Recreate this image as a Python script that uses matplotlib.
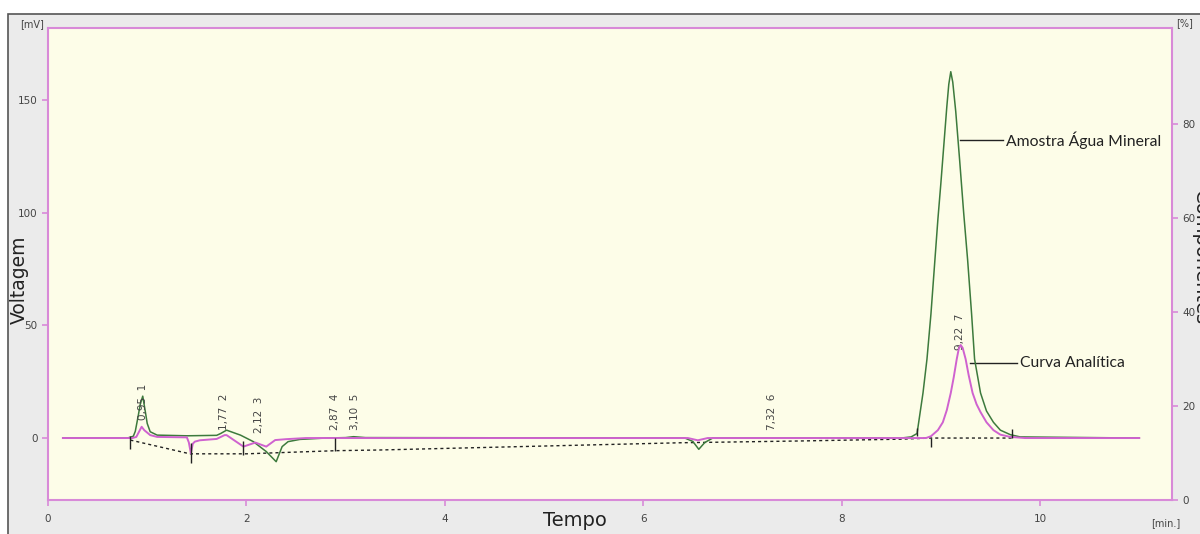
import matplotlib
matplotlib.use("Agg")
import matplotlib.pyplot as plt
from matplotlib.patches import Rectangle

GREEN = "#3d7a3d"
MAGENTA = "#cf62cf"
FRAME = "#d88ad8"
TXT = "#444444"

# Amostra Água Mineral (green trace), time [min] / voltage [mV]
amostra_t = [0.15, 0.80, 0.86, 0.88, 0.91, 0.93, 0.955, 0.98, 1.00, 1.03, 1.10, 1.40,
             1.70, 1.74, 1.80, 1.94, 2.07, 2.20, 2.30, 2.36, 2.42, 2.54, 2.80, 3.00,
             3.08, 3.20, 6.42, 6.50, 6.56, 6.62, 6.70, 8.60, 8.70, 8.76, 8.78, 8.82,
             8.86, 8.90, 8.94, 8.97, 9.00, 9.03, 9.06, 9.08, 9.10, 9.12, 9.15, 9.19,
             9.23, 9.27, 9.31, 9.34, 9.40, 9.46, 9.53, 9.60, 9.70, 9.80, 11.0]
amostra_v = [0.0, 0.0, 0.8, 3.0, 10.0, 15.0, 18.6, 12.0, 6.5, 2.8, 1.3, 1.0,
             1.2, 2.0, 3.5, 1.3, -1.6, -6.0, -10.5, -3.8, -1.6, -0.6, 0.0, 0.2,
             0.6, 0.2, 0.0, -1.5, -5.0, -2.0, 0.0, 0.0, 0.5, 2.0, 8.0, 20.0,
             35.0, 55.0, 79.0, 97.0, 113.0, 130.0, 147.0, 157.0, 162.6, 158.0, 145.0, 123.0,
             100.0, 79.0, 55.0, 35.0, 20.0, 12.0, 7.0, 3.5, 1.5, 0.5, 0.0]

# Curva Analítica (magenta trace)
curva_t = [0.15, 0.85, 0.89, 0.92, 0.944, 0.97, 1.03, 1.10, 1.40, 1.42, 1.44, 1.46,
           1.48, 1.53, 1.70, 1.78, 1.80, 1.97, 2.09, 2.20, 2.29, 2.40, 2.60, 6.45,
           6.55, 6.65, 8.85, 8.90, 8.97, 9.02, 9.06, 9.10, 9.13, 9.16, 9.18, 9.20,
           9.22, 9.25, 9.28, 9.32, 9.36, 9.40, 9.46, 9.53, 9.60, 9.70, 9.85, 11.0]
curva_v = [0.0, 0.0, 0.5, 3.0, 5.0, 3.5, 1.3, 0.5, 0.3, -2.0, -6.8, -2.5,
           -1.6, -1.0, -0.4, 1.3, 1.3, -3.8, -2.0, -3.8, -0.9, -0.5, 0.0, 0.0,
           -1.0, 0.0, 0.0, 0.8, 3.5, 7.0, 12.4, 20.0, 27.0, 35.0, 39.5, 41.3,
           40.0, 35.0, 28.0, 20.0, 15.0, 11.5, 7.0, 3.5, 1.5, 0.5, 0.0, 0.0]

# integration baseline (dashed)
base_t = [0.83, 1.43, 2.00, 2.91, 3.35, 4.76, 6.37, 7.58, 8.60, 8.90, 9.72]
base_v = [-0.9, -7.0, -7.0, -5.6, -5.3, -3.8, -2.1, -1.3, -0.5, 0.0, 0.0]

# peak start/end markers: time, lower, upper [mV]
mark_t = [0.83, 1.44, 1.97, 2.89, 8.76, 8.90, 9.72]
mark_lo = [-5.0, -11.0, -7.5, -5.8, 1.0, -4.0, 0.0]
mark_hi = [1.0, -2.0, -1.5, 0.0, 4.5, 0.0, 4.0]

# peak labels
peak_rt = [0.95, 1.77, 2.12, 2.87, 3.10, 7.32, 9.22]
peak_x = [0.96, 1.77, 2.13, 2.89, 3.09, 7.30, 9.19]
peak_y = [8.0, 3.5, 2.2, 3.5, 3.5, 3.5, 39.0]

fig = plt.figure(figsize=(12, 5.34), dpi=100)
fig.patches.append(Rectangle((8 / 1200, -0.05), 1.1, (534 - 14) / 534 + 0.05,
                             transform=fig.transFigure, facecolor="#ebebeb",
                             edgecolor="#555555", linewidth=1.2, zorder=-5))

ax = fig.add_axes([48 / 1200, 34 / 534, 1124 / 1200, 472 / 534])
ax.set_facecolor("#fdfde8")
ax.set_xlim(0, 11.33)
ax.set_ylim(-27.5, 182)
for s in ax.spines.values():
    s.set_color(FRAME)
    s.set_linewidth(1.5)

ax.plot(base_t, base_v, color="#222222", lw=1.0, ls=(0, (2.2, 2.2)), zorder=2)
ax.plot(amostra_t, amostra_v, color=GREEN, lw=1.1, zorder=3)
ax.plot(curva_t, curva_v, color=MAGENTA, lw=1.4, zorder=4)
ax.vlines(mark_t, mark_lo, mark_hi, color="#222222", lw=1.0, zorder=5)

for rt, x, y, k in zip(peak_rt, peak_x, peak_y, range(1, 8)):
    ax.text(x, y, f"{rt:.2f}".replace(".", ",") + f"  {k}", rotation=90,
            ha="center", va="bottom", fontsize=7.5, color=TXT)

ax.plot([9.19, 9.63], [132.3, 132.3], color="#222222", lw=1.0)
ax.text(9.66, 132.3, "Amostra Água Mineral", fontsize=11.3, family="Lato",
        va="center", ha="left", color="#222222")
ax.plot([9.29, 9.77], [33.3, 33.3], color="#222222", lw=1.0)
ax.text(9.80, 33.3, "Curva Analítica", fontsize=11.3, family="Lato",
        va="center", ha="left", color="#222222")

ax.set_xticks([0, 2, 4, 6, 8, 10])
ax.set_yticks([0, 50, 100, 150])
ax.tick_params(colors=FRAME, labelcolor=TXT, labelsize=7.5, length=4, width=1.2)
ax.tick_params(axis="x", pad=6)

ax2 = ax.twinx()
ax2.set_ylim(0, 100.4)
ax2.set_yticks([0, 20, 40, 60, 80])
ax2.tick_params(colors=FRAME, labelcolor=TXT, labelsize=7.5, length=4, width=1.2)
for s in ax2.spines.values():
    s.set_visible(False)

fig.text(19 / 1200, 1 - 280 / 534, "Voltagem", rotation=90, ha="center",
         va="center", fontsize=13.5, color="#222222")
fig.text(575 / 1200, 1 - 521 / 534, "Tempo", ha="center", va="center",
         fontsize=14, color="#222222")
fig.text(1200 / 1200, 1 - 258 / 534, "Componentes", rotation=270, ha="center",
         va="center", fontsize=14, color="#222222")
fig.text(32 / 1200, 1 - 24 / 534, "[mV]", ha="center", va="center", fontsize=7, color=TXT)
fig.text(1185 / 1200, 1 - 23 / 534, "[%]", ha="center", va="center", fontsize=7, color=TXT)
fig.text(1166 / 1200, 1 - 523 / 534, "[min.]", ha="center", va="center", fontsize=7, color=TXT)

fig.savefig("out.png", dpi=100)
